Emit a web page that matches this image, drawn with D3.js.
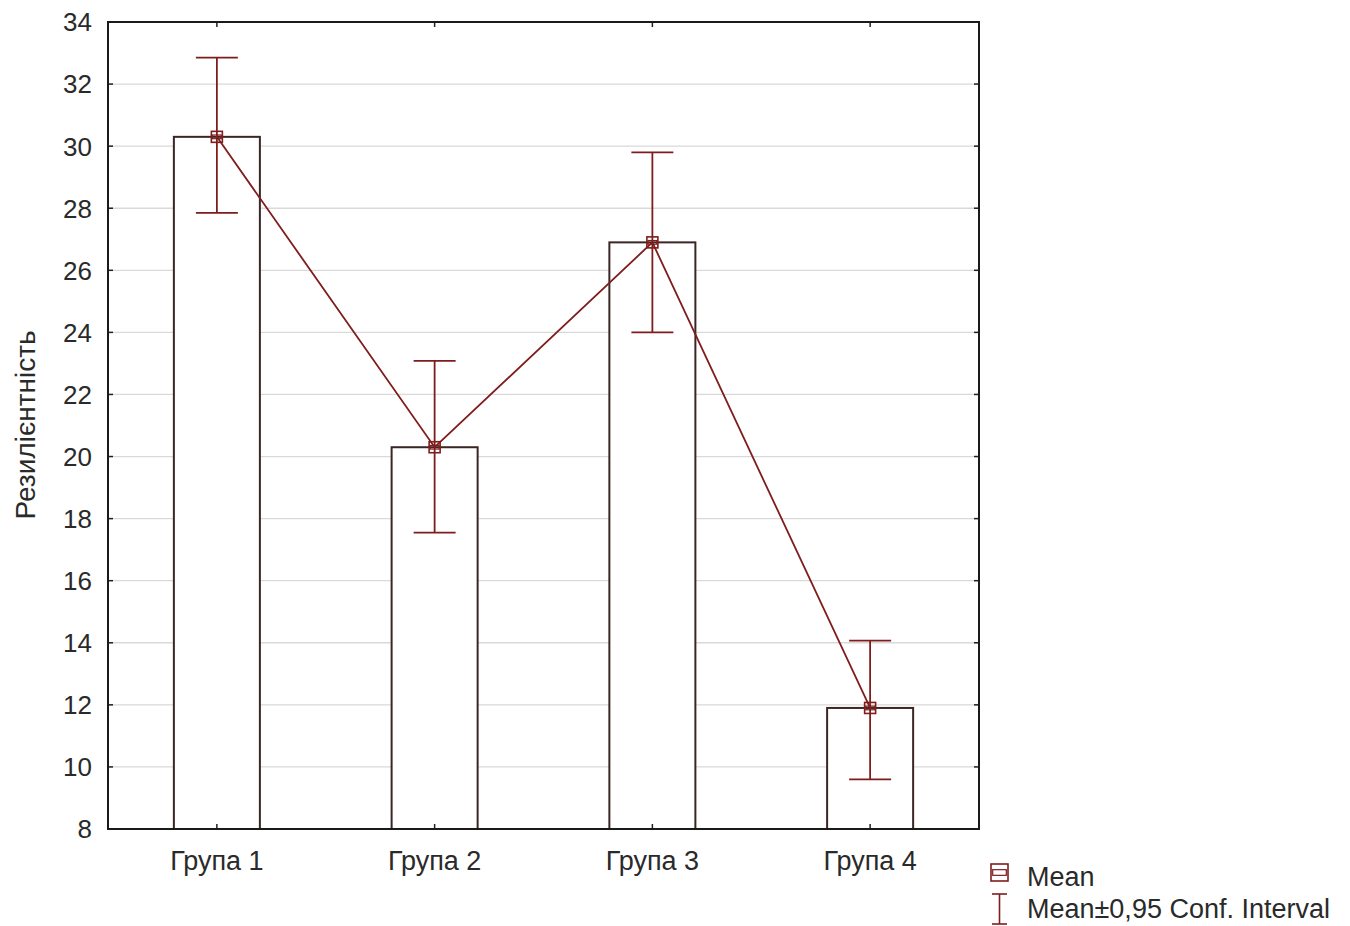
<!DOCTYPE html>
<html>
<head>
<meta charset="utf-8">
<script src="https://cdn.jsdelivr.net/npm/d3@7"></script>
<style>
  body { margin: 0; background: #fff; }
  text { font-family: "Liberation Sans", Arial, sans-serif; fill: #2a2a2a; }
</style>
</head>
<body>
<div id="chart"></div>
<script>
// data
const groups = ["Група 1", "Група 2", "Група 3", "Група 4"];
const means = [30.3, 20.3, 26.9, 11.9];
const ciLow = [27.85, 17.55, 24.0, 9.6];
const ciHigh = [32.85, 23.08, 29.8, 14.07];
const yTicks = [8, 10, 12, 14, 16, 18, 20, 22, 24, 26, 28, 30, 32, 34];

const width = 1350, height = 926,
    margin = {left: 108, top: 22, right: 371, bottom: 97};
const plotW = width - margin.left - margin.right,
    plotH = height - margin.top - margin.bottom;

const red = "#7f1d1d";
const barStroke = "#3b2626";

const svg = d3.select("#chart").append("svg")
    .attr("width", width)
    .attr("height", height);

const g = svg.append("g")
    .attr("transform", `translate(${margin.left},${margin.top})`);

const x = d3.scaleBand().domain(groups).range([0, plotW]).padding(0);
const y = d3.scaleLinear().domain([8, 34]).range([plotH, 0]);
const barW = x.bandwidth() * 0.395;
const cx = d => x(d) + x.bandwidth() / 2;

// grid
g.selectAll(".grid").data(yTicks.slice(1, -1)).enter()
    .append("line")
    .attr("x1", 0).attr("x2", plotW)
    .attr("y1", d => y(d)).attr("y2", d => y(d))
    .attr("stroke", "#d9d9d9").attr("stroke-width", 1.3);

// bars
g.selectAll(".bar").data(groups).enter()
    .append("rect")
    .attr("x", d => cx(d) - barW / 2)
    .attr("y", (d, i) => y(means[i]))
    .attr("width", barW)
    .attr("height", (d, i) => plotH - y(means[i]))
    .attr("fill", "#fff")
    .attr("stroke", barStroke).attr("stroke-width", 2);

// inner ticks (left, right, top, bottom)
const tl = 5;
yTicks.slice(1, -1).forEach(t => {
    g.append("line").attr("x1", 0).attr("x2", tl).attr("y1", y(t)).attr("y2", y(t))
        .attr("stroke", "#222").attr("stroke-width", 1.5);
    g.append("line").attr("x1", plotW - tl).attr("x2", plotW).attr("y1", y(t)).attr("y2", y(t))
        .attr("stroke", "#222").attr("stroke-width", 1.5);
});
groups.forEach(d => {
    g.append("line").attr("x1", cx(d)).attr("x2", cx(d)).attr("y1", 0).attr("y2", tl)
        .attr("stroke", "#222").attr("stroke-width", 1.5);
    g.append("line").attr("x1", cx(d)).attr("x2", cx(d)).attr("y1", plotH - tl).attr("y2", plotH)
        .attr("stroke", "#222").attr("stroke-width", 1.5);
});

// mean line
g.append("path")
    .datum(groups)
    .attr("d", d3.line().x(d => cx(d)).y((d, i) => y(means[i])))
    .attr("fill", "none").attr("stroke", red).attr("stroke-width", 1.8);

// error bars
const capW = 21;
groups.forEach((d, i) => {
    const eg = g.append("g").attr("stroke", red).attr("stroke-width", 1.8);
    eg.append("line").attr("x1", cx(d)).attr("x2", cx(d)).attr("y1", y(ciHigh[i])).attr("y2", y(ciLow[i]));
    eg.append("line").attr("x1", cx(d) - capW).attr("x2", cx(d) + capW).attr("y1", y(ciHigh[i])).attr("y2", y(ciHigh[i]));
    eg.append("line").attr("x1", cx(d) - capW).attr("x2", cx(d) + capW).attr("y1", y(ciLow[i])).attr("y2", y(ciLow[i]));
});

// mean markers: square with a band across the middle
function marker(sel, px, py, s) {
    sel.append("rect").attr("x", px - s / 2).attr("y", py - s / 2).attr("width", s).attr("height", s)
        .attr("fill", "none").attr("stroke", red).attr("stroke-width", 1.6);
    sel.append("rect").attr("x", px - s * 0.4).attr("y", py - s / 6).attr("width", s * 0.8).attr("height", s / 3)
        .attr("fill", "none").attr("stroke", red).attr("stroke-width", 1.2);
}
groups.forEach((d, i) => marker(g, cx(d), y(means[i]), 11));

// frame
g.append("rect").attr("width", plotW).attr("height", plotH)
    .attr("fill", "none").attr("stroke", "#1a1a1a").attr("stroke-width", 2);

// y tick labels
g.selectAll(".ylab").data(yTicks).enter()
    .append("text")
    .attr("x", -16).attr("y", d => y(d))
    .attr("dy", "0.36em")
    .attr("text-anchor", "end")
    .style("font-size", "26px")
    .text(d => d);

// x tick labels
g.selectAll(".xlab").data(groups).enter()
    .append("text")
    .attr("x", d => cx(d)).attr("y", plotH + 41)
    .attr("text-anchor", "middle")
    .style("font-size", "27px")
    .text(d => d);

// y title
svg.append("text")
    .attr("transform", `translate(35,425) rotate(-90)`)
    .attr("text-anchor", "middle")
    .style("font-size", "28px")
    .text("Резилієнтність");

// legend
const lg = svg.append("g");
marker(lg, 999.5, 872.5, 17);
lg.append("text").attr("x", 1027).attr("y", 886).style("font-size", "27px").text("Mean");
lg.append("g").attr("stroke", red).attr("stroke-width", 1.6).call(s => {
    s.append("line").attr("x1", 999.5).attr("x2", 999.5).attr("y1", 894).attr("y2", 924);
    s.append("line").attr("x1", 992).attr("x2", 1007).attr("y1", 894).attr("y2", 894);
    s.append("line").attr("x1", 992).attr("x2", 1007).attr("y1", 924).attr("y2", 924);
});
lg.append("text").attr("x", 1027).attr("y", 918).style("font-size", "27px").text("Mean±0,95 Conf. Interval");
</script>
</body>
</html>
